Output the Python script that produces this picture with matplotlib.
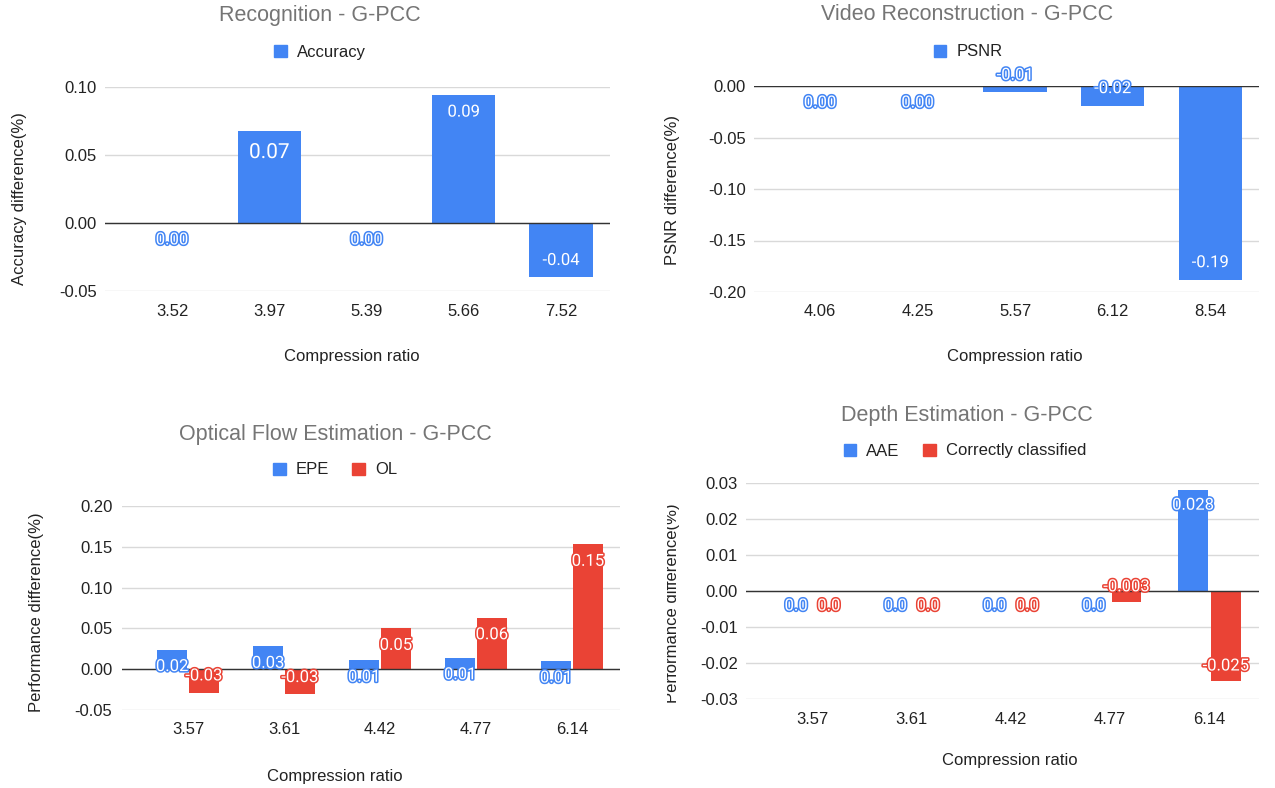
import matplotlib
matplotlib.use("Agg")
import matplotlib.pyplot as plt
import matplotlib.patheffects as pe
from matplotlib.transforms import Bbox, TransformedBbox
import numpy as np

# ---------------- data ----------------
rec_cats = ["3.52", "3.97", "5.39", "5.66", "7.52"]
rec_acc = [0.0, 0.068, 0.0, 0.094, -0.040]
rec_labels = ["0.00", "0.07", "0.00", "0.09", "-0.04"]

vid_cats = ["4.06", "4.25", "5.57", "6.12", "8.54"]
vid_psnr = [0.0, 0.0, -0.006, -0.019, -0.188]
vid_labels = ["0.00", "0.00", "-0.01", "-0.02", "-0.19"]

of_cats = ["3.57", "3.61", "4.42", "4.77", "6.14"]
of_epe = [0.024, 0.028, 0.011, 0.014, 0.010]
of_ol = [-0.029, -0.031, 0.050, 0.063, 0.153]
of_epe_labels = ["0.02", "0.03", "0.01", "0.01", "0.01"]
of_ol_labels = ["-0.03", "-0.03", "0.05", "0.06", "0.15"]

de_cats = ["3.57", "3.61", "4.42", "4.77", "6.14"]
de_aae = [0.0, 0.0, 0.0, 0.0, 0.028]
de_cc = [0.0, 0.0, 0.0, -0.003, -0.025]
de_aae_labels = ["0.0", "0.0", "0.0", "0.0", "0.028"]
de_cc_labels = ["0.0", "0.0", "0.0", "-0.003", "-0.025"]

# ---------------- style ----------------
BLUE = "#4285F4"
RED = "#EA4335"
TITLE_C = "#757575"
TEXT_C = "#222222"
GRID_C = "#d9d9d9"
FONT = ["Liberation Sans", "DejaVu Sans"]
LFONT = ["Roboto", "DejaVu Sans"]

plt.rcParams["font.family"] = FONT

W, H = 1275, 788
fig = plt.figure(figsize=(W / 100, H / 100), dpi=100)
fig.patch.set_facecolor("white")


def rect(l, r, t, b):
    return [l / W, 1 - b / H, (r - l) / W, (b - t) / H]


def style_axes(ax, ylim, yticks, xlim, cats, ypad=6, xpad=9):
    ax.set_ylim(*ylim)
    ax.set_xlim(*xlim)
    ax.set_yticks(yticks)
    ax.set_yticklabels([f"{v:.2f}" for v in yticks])
    ax.set_xticks(np.arange(len(cats)))
    ax.set_xticklabels(cats)
    ax.tick_params(axis="both", length=0, labelsize=12, labelcolor=TEXT_C)
    ax.tick_params(axis="y", pad=ypad)
    ax.tick_params(axis="x", pad=xpad)
    for s in ax.spines.values():
        s.set_visible(False)
    ax.set_axisbelow(True)
    ax.yaxis.grid(True, color=GRID_C, lw=1)
    ax.axhline(0, color="#333333", lw=1, zorder=3)


def label_bars(ax, xs, vals, labels, color, off=12.2, size=12, sizes=None):
    for i, (x, v, t) in enumerate(zip(xs, vals, labels)):
        fs = sizes.get(i, size) if sizes else size
        dy = off if v < 0 else -off
        o = dy if not (sizes and i in sizes) else (dy * 1.3)
        ax.annotate(t, (x, v), xytext=(0, o), textcoords="offset points",
                    ha="center", va="center", fontsize=fs, color="white",
                    family=LFONT, zorder=5, annotation_clip=False,
                    path_effects=[pe.withStroke(linewidth=2.2, foreground=color)])


def legend(ax, handles_labels, cx, cy):
    hs = [plt.Rectangle((0, 0), 1, 1, color=c) for c, _ in handles_labels]
    ls = [l for _, l in handles_labels]
    ax.legend(hs, ls, loc="center", bbox_to_anchor=(cx / W, 1 - cy / H),
              bbox_transform=fig.transFigure, ncol=len(hs), frameon=False,
              handlelength=0.75, handleheight=0.75, handletextpad=0.6,
              columnspacing=1.4, fontsize=12, labelcolor=TEXT_C)


# ---------------- panel 1: Recognition ----------------
ax1 = fig.add_axes(rect(105, 610, 87, 291))
x = np.arange(len(rec_cats))
ax1.bar(x, rec_acc, width=0.65, color=BLUE, zorder=2)
style_axes(ax1, (-0.05, 0.10), [-0.05, 0.0, 0.05, 0.10], (-0.689, 4.504), rec_cats)
label_bars(ax1, x, rec_acc, rec_labels, BLUE, sizes={1: 15})
legend(ax1, [(BLUE, "Accuracy")], 320, 52)
fig.text(320 / W, 1 - 15 / H, "Recognition - G-PCC", ha="center", va="center",
         fontsize=15.5, color=TITLE_C)
fig.text(352 / W, 1 - 357 / H, "Compression ratio", ha="center", va="center",
         fontsize=12, color=TEXT_C)
fig.text(20 / W, 1 - 199 / H, "Accuracy difference(%)", ha="center", va="center",
         rotation=90, fontsize=12, color=TEXT_C)

# ---------------- panel 2: Video Reconstruction ----------------
ax2 = fig.add_axes(rect(754, 1259, 86, 292))
x = np.arange(len(vid_cats))
ax2.bar(x, vid_psnr, width=0.65, color=BLUE, zorder=2)
style_axes(ax2, (-0.20, 0.0), [-0.20, -0.15, -0.10, -0.05, 0.0], (-0.677, 4.5), vid_cats)
label_bars(ax2, x, vid_psnr, vid_labels, BLUE)
legend(ax2, [(BLUE, "PSNR")], 968, 52)
fig.text(967 / W, 1 - 15 / H, "Video Reconstruction - G-PCC", ha="center", va="center",
         fontsize=15.5, color=TITLE_C)
fig.text(1015 / W, 1 - 357 / H, "Compression ratio", ha="center", va="center",
         fontsize=12, color=TEXT_C)
fig.text(672 / W, 1 - 190 / H, "PSNR difference(%)", ha="center", va="center",
         rotation=90, fontsize=12, color=TEXT_C)

# ---------------- panel 3: Optical Flow ----------------
ax3 = fig.add_axes(rect(122, 620, 506, 710))
x = np.arange(len(of_cats))
bw = 0.31
gap = 0.01
ax3.bar(x - bw / 2 - gap, of_epe, width=bw, color=BLUE, zorder=2)
ax3.bar(x + bw / 2 + gap, of_ol, width=bw, color=RED, zorder=2)
style_axes(ax3, (-0.05, 0.20), [-0.05, 0.0, 0.05, 0.10, 0.15, 0.20], (-0.6875, 4.5), of_cats, ypad=7)
label_bars(ax3, x - bw / 2 - gap, of_epe, of_epe_labels, BLUE)
label_bars(ax3, x + bw / 2 + gap, of_ol, of_ol_labels, RED)
legend(ax3, [(BLUE, "EPE"), (RED, "OL")], 335, 470)
fig.text(335 / W, 1 - 435 / H, "Optical Flow Estimation - G-PCC", ha="center", va="center",
         fontsize=15.5, color=TITLE_C)
fig.text(335 / W, 1 - 776 / H, "Compression ratio", ha="center", va="center",
         fontsize=12, color=TEXT_C)
fig.text(37 / W, 1 - 612 / H, "Performance difference(%)", ha="center", va="center",
         rotation=90, fontsize=12, color=TEXT_C)

# ---------------- panel 4: Depth Estimation ----------------
ax4 = fig.add_axes(rect(746, 1259, 483, 699))
x = np.arange(len(de_cats))
bw = 0.30
gap = 0.015
ax4.bar(x - bw / 2 - gap, de_aae, width=bw, color=BLUE, zorder=2)
ax4.bar(x + bw / 2 + gap, de_cc, width=bw, color=RED, zorder=2)
style_axes(ax4, (-0.03, 0.03), [-0.03, -0.02, -0.01, 0.0, 0.01, 0.02, 0.03], (-0.67, 4.5), de_cats)
label_bars(ax4, x - bw / 2 - gap, de_aae, de_aae_labels, BLUE, off=10.8)
label_bars(ax4, x + bw / 2 + gap, de_cc, de_cc_labels, RED, off=10.8)
legend(ax4, [(BLUE, "AAE"), (RED, "Correctly classified")], 965, 451)
fig.text(967 / W, 1 - 415 / H, "Depth Estimation - G-PCC", ha="center", va="center",
         fontsize=15.5, color=TITLE_C)
fig.text(1010 / W, 1 - 761 / H, "Compression ratio", ha="center", va="center",
         fontsize=12, color=TEXT_C)
yl4 = fig.text(673 / W, 1 - 603 / H, "Performance difference(%)", ha="center", va="center",
               rotation=90, fontsize=12, color=TEXT_C)
yl4.set_clip_on(True)
yl4.set_clip_box(TransformedBbox(Bbox([[667 / W, 0], [1, 1]]), fig.transFigure))

fig.savefig("out.png", dpi=100, facecolor="white")
